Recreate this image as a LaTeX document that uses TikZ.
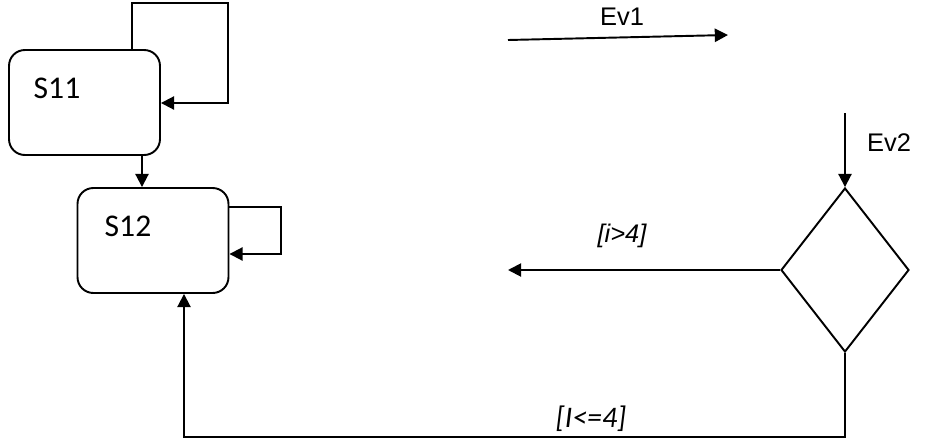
\documentclass[tikz,border=0pt]{standalone}
\usepackage{fontspec}
\setmainfont{Carlito}
\newfontfamily\arialfont{Liberation Sans}
\usetikzlibrary{arrows.meta,shapes.geometric,positioning}

\begin{document}
\begin{tikzpicture}[x=0.02cm,y=-0.02cm,line width=1.1pt,
    >={Triangle[length=7.5pt,width=7.5pt]},
    statebox/.style={draw,rounded corners=9pt,minimum width=3.02cm,minimum height=2.1cm,inner sep=0pt},
    choice/.style={draw,diamond,inner sep=0pt,minimum width=2.56cm,minimum height=3.28cm},
    statename/.style={font=\fontsize{18}{21}\selectfont},
    evname/.style={font=\arialfont\fontsize{14.5}{17}\selectfont},
    guard/.style={font=\arialfont\itshape\fontsize{14.5}{17}\selectfont}]
  \useasboundingbox (0,0) rectangle (931,443);
  % states
  \node[statebox] (s11) at (84.5,102.5) {};
  \node[statebox] (s12) at (153,240.5) {};
  \node[statename] (s11name) at (57,88) {S11};
  \node[statename] (s12name) at (128,226) {S12};
  % self loops
  \coordinate (l1a) at (132,3);
  \coordinate (l1b) at (228,3);
  \draw[->] (s11.north -| l1a) -- (l1a) -- (l1b) -- (l1b |- 0,103) -- (s11.east |- 0,103);
  \coordinate (l2a) at (281,207);
  \draw[->] (s12.east |- l2a) -- (l2a) -- (281,254) -- (s12.east |- 0,254);
  \draw[->] (s11.south -| 142,0) -- (s12.north -| 142,0);
  % events
  \coordinate (ev1a) at (508,40);
  \coordinate (ev1b) at (728,35);
  \draw[->] (ev1a) -- (ev1b);
  \node[evname] (ev1) at (622,17) {Ev1};
  \node[choice] (ch) at (845,270) {};
  \coordinate (ev2a) at (845,113);
  \draw[->] (ev2a) -- (ch.north);
  \node[evname] (ev2) at (889,143) {Ev2};
  % guards
  \coordinate (out) at (508,270);
  \draw[->] (ch.west) -- (out);
  \node[guard] (g1) at (622,236) {[i>4]};
  \coordinate (back) at (845,437);
  \draw[->] (ch.south) -- (back) -- (back -| 184,0) -- (s12.south -| 184,0);
  \node[font=\itshape\fontsize{17}{20}\selectfont] (g2) at (591,419) {[I<=4]};
\end{tikzpicture}
\end{document}
